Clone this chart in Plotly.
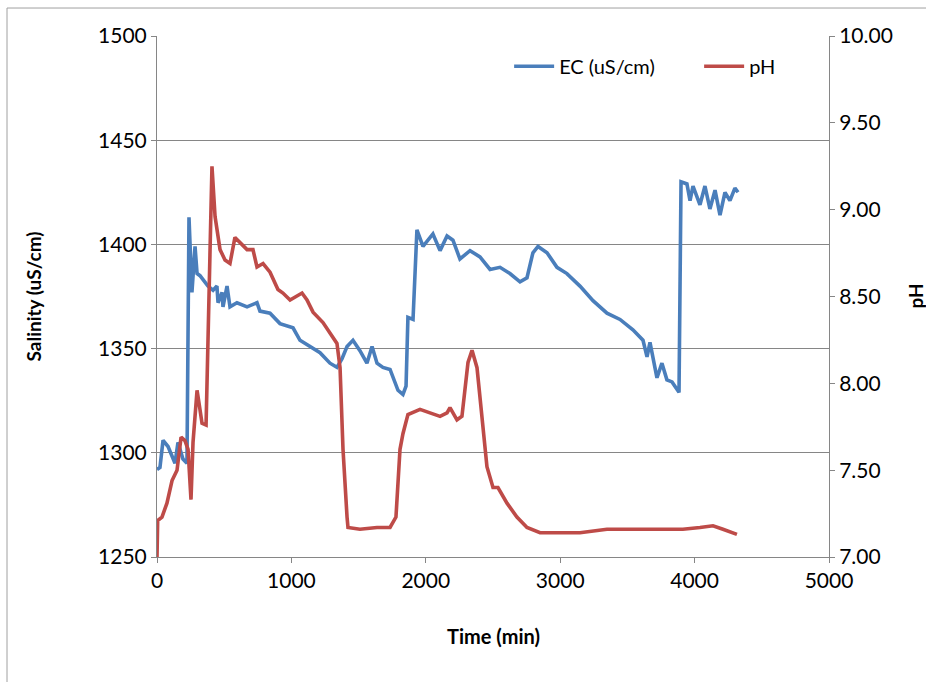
import plotly.graph_objects as go

# EC series (time in min, EC in uS/cm)
ec_time = [0, 22, 45, 82, 134, 156, 193, 223, 238, 260, 283, 298, 320, 379, 417, 446, 454, 484, 491,
           521, 543, 595, 670, 744, 766, 841, 915, 1012, 1064, 1138, 1213, 1287, 1339, 1376, 1414,
           1458, 1510, 1562, 1600, 1637, 1681, 1734, 1793, 1830, 1853, 1867, 1905, 1934, 1979, 2053,
           2106, 2158, 2202, 2254, 2329, 2403, 2478, 2552, 2626, 2701, 2753, 2797, 2835, 2902, 2976,
           3050, 3147, 3244, 3348, 3445, 3541, 3616, 3646, 3668, 3720, 3757, 3794, 3832, 3869, 3884,
           3899, 3943, 3966, 3988, 4040, 4077, 4114, 4152, 4189, 4226, 4263, 4300, 4323]
ec_vals = [1292, 1293, 1306, 1303, 1295, 1305, 1297, 1295, 1413, 1377, 1399, 1386, 1385, 1380, 1378,
           1380, 1372, 1377, 1370, 1380, 1370, 1372, 1370, 1372, 1368, 1367, 1362, 1360, 1354, 1351,
           1348, 1343, 1341, 1345, 1351, 1354, 1349, 1343, 1351, 1343, 1341, 1340, 1330, 1328, 1332,
           1365, 1364, 1407, 1399, 1405, 1397, 1404, 1402, 1393, 1397, 1394, 1388, 1389, 1386, 1382,
           1384, 1396, 1399, 1396, 1389, 1386, 1380, 1373, 1367, 1364, 1359, 1354, 1346, 1353, 1336,
           1343, 1335, 1334, 1330, 1329, 1430, 1429, 1421, 1428, 1419, 1428, 1417, 1426, 1414, 1425,
           1421, 1427, 1425]

# pH series
ph_time = [0, 5, 37, 74, 112, 149, 179, 208, 231, 253, 268, 298, 312, 335, 365, 379, 394, 409, 432,
           469, 506, 543, 580, 618, 670, 714, 744, 789, 841, 900, 937, 990, 1042, 1079, 1116, 1161,
           1235, 1302, 1339, 1362, 1384, 1414, 1421, 1510, 1637, 1734, 1756, 1778, 1808, 1830, 1867,
           1957, 2031, 2106, 2158, 2180, 2232, 2269, 2314, 2344, 2381, 2418, 2455, 2500, 2537, 2604,
           2678, 2753, 2850, 2998, 3147, 3348, 3594, 3913, 4040, 4137, 4211, 4315]
ph_vals = [7.00, 7.21, 7.23, 7.31, 7.44, 7.50, 7.69, 7.67, 7.62, 7.33, 7.66, 7.96, 7.89, 7.77, 7.76,
           8.19, 8.77, 9.25, 8.96, 8.77, 8.71, 8.69, 8.84, 8.81, 8.77, 8.77, 8.67, 8.69, 8.64, 8.54,
           8.52, 8.48, 8.50, 8.52, 8.48, 8.41, 8.35, 8.27, 8.23, 8.09, 7.62, 7.23, 7.17, 7.16, 7.17,
           7.17, 7.20, 7.23, 7.62, 7.71, 7.82, 7.85, 7.83, 7.81, 7.83, 7.86, 7.79, 7.81, 8.12, 8.19,
           8.09, 7.81, 7.52, 7.40, 7.40, 7.31, 7.23, 7.17, 7.14, 7.14, 7.14, 7.16, 7.16, 7.16, 7.17,
           7.18, 7.16, 7.13]

left_ticks = [1250, 1300, 1350, 1400, 1450, 1500]
right_ticks = [7.0, 7.5, 8.0, 8.5, 9.0, 9.5, 10.0]
x_ticks = [0, 1000, 2000, 3000, 4000, 5000]

FONT = "Lato"
BLUE = "#4A7EBB"
RED = "#BE4B48"
AX = "#868686"

fig = go.Figure()
fig.add_trace(go.Scatter(x=ec_time, y=ec_vals, mode="lines", name="EC (uS/cm)",
                         line=dict(color=BLUE, width=3.6), yaxis="y"))
fig.add_trace(go.Scatter(x=ph_time, y=ph_vals, mode="lines", name="pH",
                         line=dict(color=RED, width=3.6), yaxis="y2"))

fig.update_layout(
    width=926, height=682, autosize=False,
    margin=dict(l=157, r=97, t=36, b=125),
    paper_bgcolor="white", plot_bgcolor="white",
    font=dict(family=FONT, size=21, color="black"),
    xaxis=dict(range=[0, 5000], tickvals=x_ticks, ticks="outside", ticklen=5, tickcolor=AX,
               showline=True, linecolor=AX, linewidth=1, showgrid=False, zeroline=False),
    yaxis=dict(range=[1250, 1500], tickvals=left_ticks, ticks="outside", ticklen=5, tickcolor=AX,
               showline=True, linecolor=AX, linewidth=1, showgrid=True, gridcolor=AX, gridwidth=1,
               zeroline=False),
    yaxis2=dict(range=[7, 10], tickvals=right_ticks, tickformat=".2f", overlaying="y", side="right",
                ticks="outside", ticklen=5, tickcolor=AX, showline=True, linecolor=AX, linewidth=1,
                showgrid=False, zeroline=False),
    legend=dict(orientation="h", x=0.524, y=0.942, xanchor="left", yanchor="middle",
                font=dict(size=20), bgcolor="rgba(0,0,0,0)", itemwidth=40, tracegroupgap=0,
                entrywidth=135, entrywidthmode="pixels"),
    showlegend=True,
    annotations=[
        dict(text="<b>Time (min)</b>", xref="paper", yref="paper", x=0.5, y=-0.1516,
             xanchor="center", yanchor="middle", showarrow=False, font=dict(size=20)),
        dict(text="<b>Salinity (uS/cm)</b>", xref="paper", yref="paper", x=-0.1845, y=0.5,
             xanchor="center", yanchor="middle", showarrow=False, textangle=-90,
             font=dict(size=19)),
        dict(text="<b>pH</b>", xref="paper", yref="paper", x=1.128, y=0.5,
             xanchor="center", yanchor="middle", showarrow=False, textangle=-90,
             font=dict(size=19)),
    ],
    shapes=[dict(type="rect", xref="paper", yref="paper", x0=-0.2232, x1=1.2, y0=-0.3,
                 y1=1.0537, line=dict(color="#A0A0A0", width=1), fillcolor="rgba(0,0,0,0)",
                 layer="below")],
)

fig.write_html("out.html", config={"responsive": False, "displayModeBar": False},
               post_script="document.body.style.margin='0';document.body.style.overflow='hidden';")
